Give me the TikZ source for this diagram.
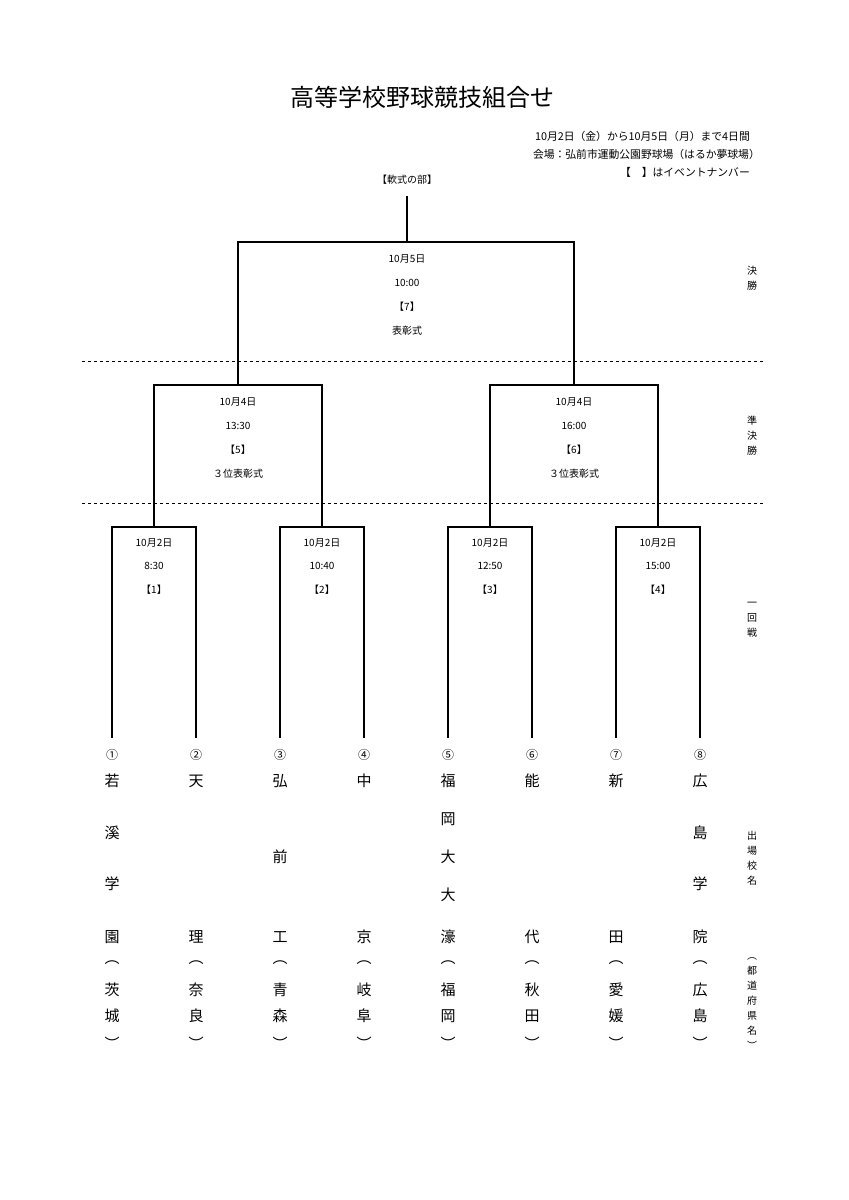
\documentclass[tikz,border=0pt]{standalone}
\usepackage{fontspec}
\setmainfont{Noto Sans CJK JP}
\begin{document}
\begin{tikzpicture}[x=1pt,y=-1pt,
  br/.style={line width=1.1pt},
  dsh/.style={dashed,line width=0.8pt},
  sm/.style={font=\fontsize{10}{11}\selectfont,inner sep=0pt},
  tr/.style={font=\fontsize{10.8}{12}\selectfont,inner sep=0pt},
  nm/.style={font=\fontsize{15}{16}\selectfont,inner sep=0pt},
  side/.style={font=\fontsize{10}{15}\selectfont,inner sep=0pt,align=center}]
\useasboundingbox[fill=white] (0,0) rectangle (849,1200);
\node[font=\fontsize{24}{26}\selectfont] (title) at (422,97) {高等学校野球競技組合せ};
\node[tr,anchor=east] (i1) at (750,136) {10月2日（金）から10月5日（月）まで4日間};
\node[tr,anchor=east] (i2) at (760,154) {会場：弘前市運動公園野球場（はるか夢球場）};
\node[tr,anchor=east] (i3) at (750,172) {【　】はイベントナンバー};
\node[sm] (div) at (407,180) {【軟式の部】};
\draw[br] (407,196) -- (407,242);
\draw[br] (238,385) -- (238,242) -- (574,242) -- (574,385);
\draw[dsh] (82,361) -- (763,361);
\draw[dsh] (82,503) -- (763,503);
\foreach \t [count=\i] in {10月5日,10:00,【7】,表彰式}
  \node[sm] (f\i) at (407,235+24*\i) {\t};
\draw[br] (154,527) -- (154,385) -- (322,385) -- (322,527);
\draw[br] (490,527) -- (490,385) -- (658,385) -- (658,527);
\foreach \t [count=\i] in {10月4日,13:30,【5】,３位表彰式}
  \node[sm] (sa\i) at (238,378+24*\i) {\t};
\foreach \t [count=\i] in {10月4日,16:00,【6】,３位表彰式}
  \node[sm] (sb\i) at (574,378+24*\i) {\t};
\foreach \a/\b/\d/\n [count=\k] in {112/196/8:30/1,280/364/10:40/2,448/532/12:50/3,616/700/15:00/4}{
  \draw[br] (\a,738) -- (\a,527) -- (\b,527) -- (\b,738);
  \node[sm] (r\k a) at ({(\a+\b)/2},543) {10月2日};
  \node[sm] (r\k b) at ({(\a+\b)/2},566) {\d};
  \node[sm] (r\k c) at ({(\a+\b)/2},590) {【\n】};
}
\foreach \c [count=\i] in {①,②,③,④,⑤,⑥,⑦,⑧}
  \node[font=\fontsize{12}{13}\selectfont] (c\i) at (28+84*\i,755) {\c};
\foreach \x/\list in {112/{若/781,溪/833,学/884,園/937,︵/963,茨/990,城/1016,︶/1043},
  196/{天/781,理/937,︵/963,奈/990,良/1016,︶/1043},
  280/{弘/781,前/857,工/937,︵/963,青/990,森/1016,︶/1043},
  364/{中/781,京/937,︵/963,岐/990,阜/1016,︶/1043},
  448/{福/781,岡/819,大/857,大/895,濠/937,︵/963,福/990,岡/1016,︶/1043},
  532/{能/781,代/937,︵/963,秋/990,田/1016,︶/1043},
  616/{新/781,田/937,︵/963,愛/990,媛/1016,︶/1043},
  700/{広/781,島/833,学/884,院/937,︵/963,広/990,島/1016,︶/1043}}{
  \foreach \ch/\y in \list \node[nm] at (\x,\y) {\ch};
}
\node[side] (s1) at (752,278) {決\\勝};
\node[side] (s2) at (752,436) {準\\決\\勝};
\node[side] (s3) at (752,620) {一\\回\\戦};
\node[side] (s4) at (752,858) {出\\場\\校\\名};
\node[side] (s5) at (752,1004) {︵\\都\\道\\府\\県\\名\\︶};
\end{tikzpicture}
\end{document}
